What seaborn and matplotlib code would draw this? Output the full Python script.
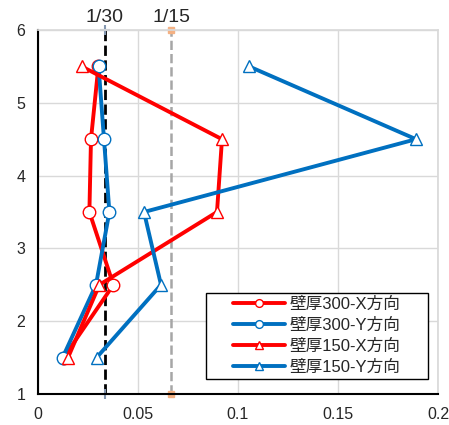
import numpy as np
import pandas as pd
import seaborn as sns
import matplotlib.pyplot as plt
from matplotlib.patches import Rectangle

# 層 (y) と各方向の変形角 (x)
story = [5.5, 4.5, 3.5, 2.5, 1.5]
t300_x = [0.0302, 0.0265, 0.0257, 0.0377, 0.0128]
t300_y = [0.0303, 0.0330, 0.0357, 0.0290, 0.0123]
t150_x = [0.0218, 0.0920, 0.0895, 0.0307, 0.0150]
t150_y = [0.1055, 0.1890, 0.0530, 0.0615, 0.0293]
labels = ['壁厚300-X方向', '壁厚300-Y方向', '壁厚150-X方向', '壁厚150-Y方向']
limits = [1 / 30, 1 / 15]
limit_labels = ['1/30', '1/15']

sns.set_theme(style="white")
plt.rcParams['font.family'] = ['Liberation Sans', 'Noto Sans CJK JP', 'DejaVu Sans']

fig = plt.figure(figsize=(4.49, 4.25), dpi=100)
ax = fig.add_axes([0.0846, 0.0729, 0.8909, 0.8565])

ax.set_xlim(0, 0.2)
ax.set_ylim(1, 6)
ax.set_xticks([0, 0.05, 0.1, 0.15, 0.2])
ax.set_xticklabels(['0', '0.05', '0.1', '0.15', '0.2'])
ax.set_yticks([1, 2, 3, 4, 5, 6])
ax.grid(True, color='#d9d9d9', linewidth=1.0)
ax.set_axisbelow(True)
for s in ['top', 'right']:
    ax.spines[s].set_color('#d9d9d9')
for s in ['left', 'bottom']:
    ax.spines[s].set_color('black')
    ax.spines[s].set_linewidth(1.5)
ax.tick_params(axis='both', labelsize=11.5, length=0, pad=9)

# 制限値ライン
ax.plot([limits[0]] * 2, [1, 6], color='black', linestyle='--', linewidth=2.0,
        marker='+', markersize=7, markeredgecolor='#8497b0', markeredgewidth=1.5,
        clip_on=False, zorder=2)
ax.plot([limits[1]] * 2, [1, 6], color='#a6a6a6', linestyle='--', linewidth=1.8,
        marker='s', markersize=4, markerfacecolor='#f4b183', markeredgecolor='#f4b183',
        clip_on=False, zorder=2)
for v, t in zip(limits, limit_labels):
    ax.text(v, 6.06, t, ha='center', va='bottom', fontsize=14)

series = [t300_x, t300_y, t150_x, t150_y]
colors = ['#ff0000', '#0070c0', '#ff0000', '#0070c0']
markers = ['o', 'o', '^', '^']
for vals, lab, c, m in zip(series, labels, colors, markers):
    df = pd.DataFrame({'x': vals, 'y': story})
    sns.lineplot(data=df, x='x', y='y', sort=False, ax=ax, color=c, linewidth=2.8,
                 marker=m, markersize=9, markerfacecolor='white', markeredgecolor=c,
                 markeredgewidth=1.0, label=lab, zorder=3)

ax.set_xlabel('')
ax.set_ylabel('')

# 凡例枠（左右の余白が広いので別に描く）
frame = Rectangle((206 / 449, (425 - 379) / 425), 222 / 449, 86 / 425,
                  transform=fig.transFigure, facecolor='white', edgecolor='black',
                  linewidth=1.0, zorder=4, clip_on=False)
ax.add_patch(frame)
leg = ax.legend(loc='center', bbox_to_anchor=(317 / 449, (425 - 336) / 425),
                bbox_transform=fig.transFigure, fontsize=12, frameon=False,
                handlelength=3.1, borderpad=0.0, labelspacing=0.36, handletextpad=0.3,
                markerscale=0.62)
leg.set_zorder(5)

plt.savefig('out.png', dpi=100)
